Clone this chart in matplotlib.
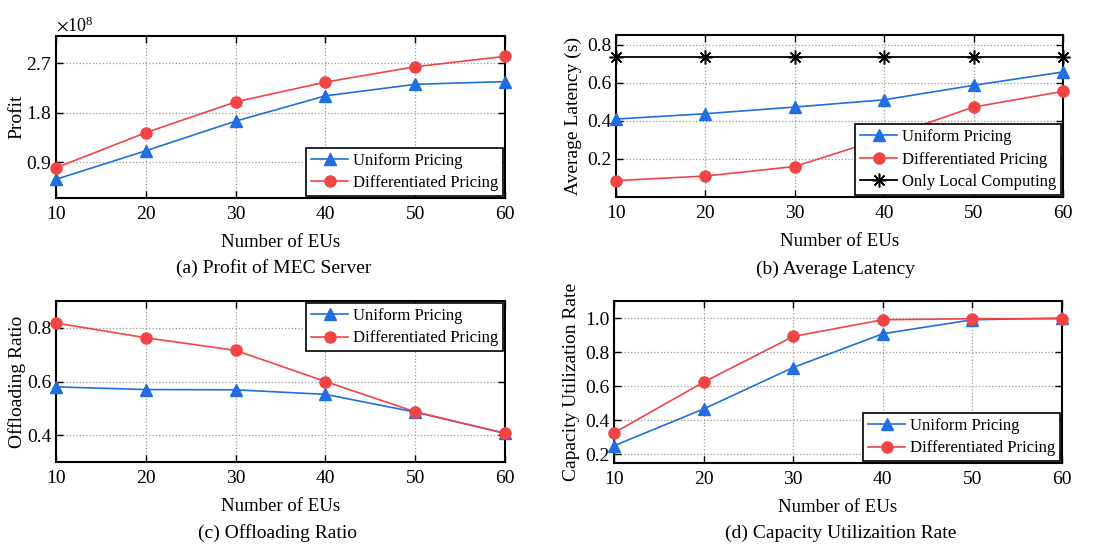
import matplotlib
matplotlib.use("Agg")
import matplotlib.pyplot as plt
from matplotlib.ticker import ScalarFormatter

plt.rcParams['font.family'] = ['Liberation Serif', 'DejaVu Serif']
plt.rcParams['mathtext.fontset'] = 'stix'
plt.rcParams['font.size'] = 14

eus = [10, 20, 30, 40, 50, 60]

# (a) profit of MEC server
profit_uniform = [0.59e8, 1.11e8, 1.65e8, 2.11e8, 2.32e8, 2.37e8]
profit_diff = [0.80e8, 1.44e8, 2.00e8, 2.36e8, 2.64e8, 2.83e8]

# (b) average latency
lat_uniform = [0.409, 0.437, 0.472, 0.510, 0.586, 0.656]
lat_diff = [0.086, 0.110, 0.160, 0.310, 0.472, 0.554]
lat_local = [0.737, 0.737, 0.737, 0.737, 0.737, 0.737]

# (c) offloading ratio
off_uniform = [0.580, 0.570, 0.569, 0.552, 0.486, 0.407]
off_diff = [0.818, 0.763, 0.716, 0.600, 0.487, 0.407]

# (d) capacity utilization rate
cap_uniform = [0.251, 0.467, 0.710, 0.908, 0.990, 1.000]
cap_diff = [0.327, 0.624, 0.892, 0.990, 0.996, 0.996]

blue = '#1f6fe0'
red = '#f24444'

fig = plt.figure(figsize=(11.01, 5.49), dpi=100)
W, H = 1101, 549


def make_ax(l, r, t, b):
    return fig.add_axes([l / W, 1 - b / H, (r - l) / W, (b - t) / H])


def style(ax, ylab, xpos):
    ax.set_xlim(10, 60)
    ax.set_xticks(eus)
    ax.grid(True, linestyle=':', color='#9a9a9a', linewidth=0.9)
    ax.tick_params(direction='in', top=True, right=True, length=5, width=1, labelsize=14)
    ax.tick_params(axis='x', pad=6)
    ax.tick_params(axis='y', pad=3)
    for s in ax.spines.values():
        s.set_linewidth(1.5)
    ax.set_xlabel('Number of EUs', fontsize=13.5, labelpad=8)
    ax.set_ylabel(ylab, fontsize=14)
    ax.yaxis.set_label_coords(xpos, 0.5)


def plot_two(ax, u, d):
    ax.plot(eus, u, color=blue, marker='^', markersize=8, linewidth=1.2, clip_on=False,
            label='Uniform Pricing', zorder=3)
    ax.plot(eus, d, color=red, marker='o', markersize=8, linewidth=1.2, clip_on=False,
            label='Differentiated Pricing', zorder=3)


def legend(ax, loc):
    leg = ax.legend(loc=loc, fancybox=False, edgecolor='black', framealpha=1,
                    borderaxespad=0.1, fontsize=12, handlelength=2.2,
                    borderpad=0.3, labelspacing=0.4, handletextpad=0.3)
    leg.get_frame().set_linewidth(1.2)
    leg.set_zorder(5)


# (a)
ax1 = make_ax(56, 505, 36, 198)
plot_two(ax1, profit_uniform, profit_diff)
style(ax1, 'Profit', -0.069)
ax1.set_ylim(0.25e8, 3.2e8)
ax1.set_yticks([0.9e8, 1.8e8, 2.7e8])
fmt = ScalarFormatter(useMathText=True)
fmt.set_powerlimits((0, 0))
ax1.yaxis.set_major_formatter(fmt)
ax1.yaxis.get_offset_text().set_fontsize(13)
legend(ax1, 'lower right')

# (b)
ax2 = make_ax(616, 1063, 35, 197)
plot_two(ax2, lat_uniform, lat_diff)
ax2.plot(eus, lat_local, color='black', marker=(8, 2, 0), markersize=10, markeredgewidth=1.1,
         linewidth=1.3, clip_on=False, label='Only Local Computing', zorder=3)
style(ax2, 'Average Latency (s)', -0.075)
ax2.set_ylim(0, 0.85)
ax2.set_yticks([0.2, 0.4, 0.6, 0.8])
legend(ax2, 'lower right')

# (c)
ax3 = make_ax(56, 505, 301, 462)
plot_two(ax3, off_uniform, off_diff)
style(ax3, 'Offloading Ratio', -0.067)
ax3.set_ylim(0.3, 0.9)
ax3.set_yticks([0.4, 0.6, 0.8])
legend(ax3, 'upper right')

# (d)
ax4 = make_ax(614, 1062, 301, 463)
plot_two(ax4, cap_uniform, cap_diff)
style(ax4, 'Capacity Utilization Rate', -0.076)
ax4.set_ylim(0.15, 1.1)
ax4.set_yticks([0.2, 0.4, 0.6, 0.8, 1.0])
legend(ax4, 'lower right')

fig.text(274 / W, 1 - 268 / H, '(a) Profit of MEC Server', ha='center', va='center', fontsize=14)
fig.text(836 / W, 1 - 269 / H, '(b) Average Latency', ha='center', va='center', fontsize=14)
fig.text(278 / W, 1 - 533 / H, '(c) Offloading Ratio', ha='center', va='center', fontsize=14)
fig.text(841 / W, 1 - 533 / H, '(d) Capacity Utilizaition Rate', ha='center', va='center', fontsize=14)

fig.savefig('out.png', dpi=100)
